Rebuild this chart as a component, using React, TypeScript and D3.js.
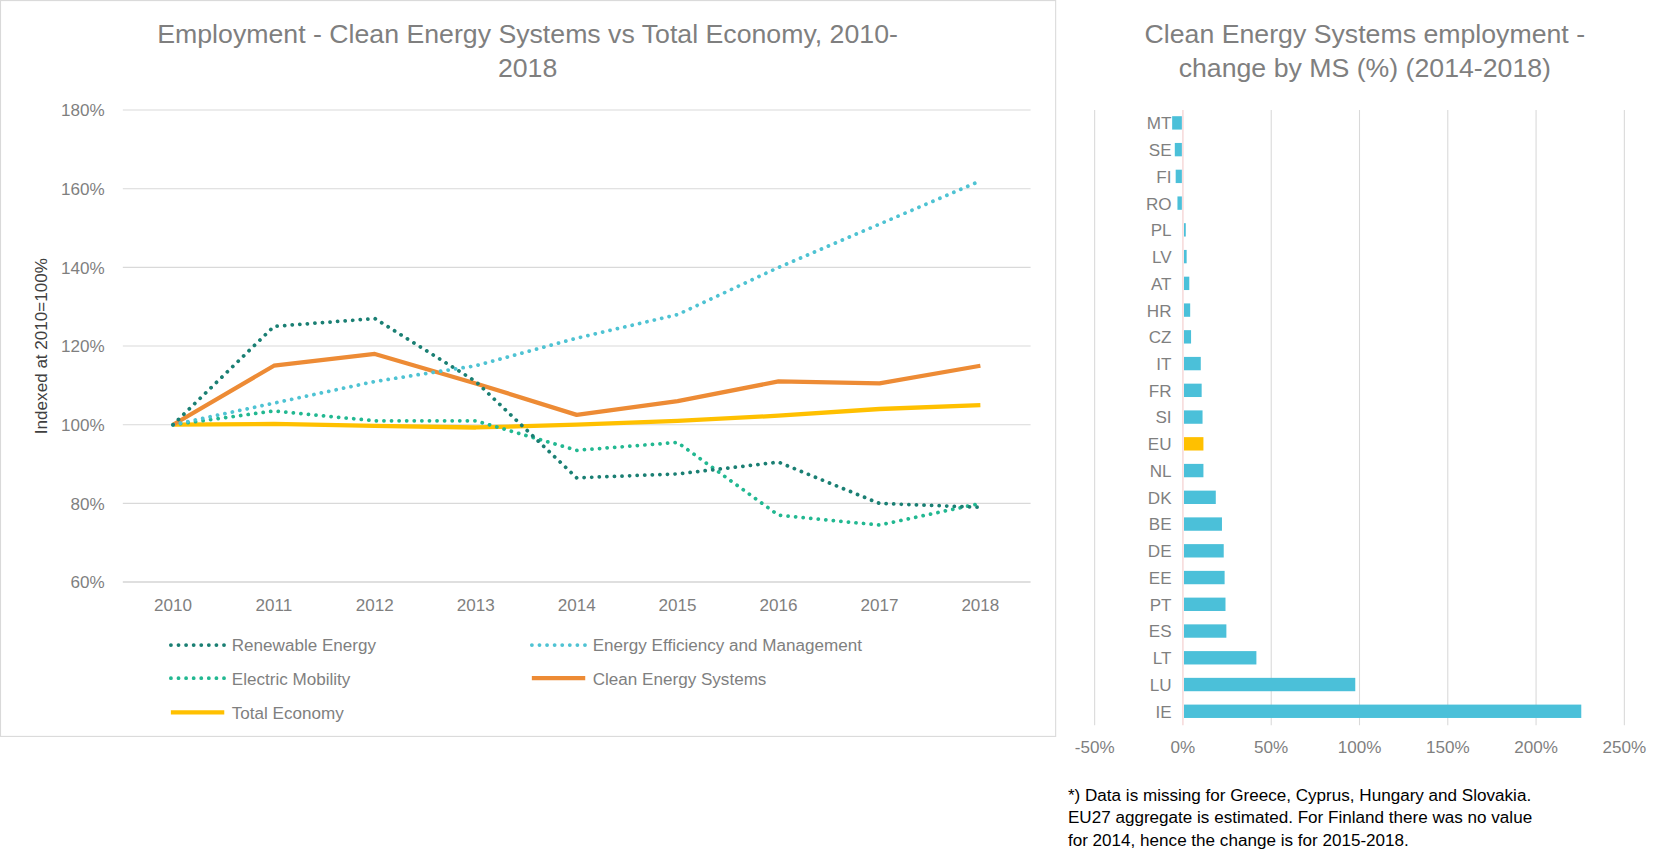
import { useEffect, useRef } from 'react';
import * as d3 from 'd3';

const years = ['2010', '2011', '2012', '2013', '2014', '2015', '2016', '2017', '2018'];
const renewable = [100, 125, 127, 111, 86.5, 87.5, 90.5, 80, 79];
const efficiency = [100, 105.5, 111, 115, 122, 128, 140, 151, 162];
const mobility = [100, 103.5, 101, 101, 93.5, 95.5, 77, 74.5, 80];
const cleanEnergy = [100, 115, 118, 110.5, 102.5, 106, 111, 110.5, 115];
const totalEconomy = [100, 100.2, 99.7, 99.3, 100, 101, 102.3, 104, 105];

const countries = ['MT', 'SE', 'FI', 'RO', 'PL', 'LV', 'AT', 'HR', 'CZ', 'IT', 'FR', 'SI', 'EU', 'NL', 'DK', 'BE', 'DE', 'EE', 'PT', 'ES', 'LT', 'LU', 'IE'];
const change = [-5.5, -4, -3.5, -2.5, 1, 1.5, 3, 3.5, 4, 9.5, 10, 10.5, 11, 11, 18, 21.5, 22.5, 23, 23.5, 24, 41, 97, 225];

const FONT = '"Liberation Sans", Arial, sans-serif';
const GREY = '#7f7f7f';

export default function App() {
  const ref = useRef<SVGSVGElement>(null);

  useEffect(() => {
    const svg = d3.select(ref.current);
    svg.selectAll('*').remove();
    svg.append('rect').attr('width', 1560).attr('height', 808).attr('fill', '#fff');
    svg.append('rect').attr('x', 0.5).attr('y', 0.5).attr('width', 988).attr('height', 689)
      .attr('fill', 'none').attr('stroke', '#d9d9d9');

    // ---- left line chart
    svg.append('text').attr('x', 494).attr('y', 40).attr('text-anchor', 'middle')
      .attr('font-size', 25).attr('fill', GREY).text('Employment - Clean Energy Systems vs Total Economy, 2010-');
    svg.append('text').attr('x', 494).attr('y', 72).attr('text-anchor', 'middle')
      .attr('font-size', 25).attr('fill', GREY).text('2018');

    const x = d3.scalePoint().domain(years).range([162, 918]);
    const y = d3.scaleLinear().domain([60, 180]).range([545, 103]);
    const g = svg.append('g');
    y.ticks(6).forEach((t) => {
      g.append('line').attr('x1', 115).attr('x2', 965).attr('y1', y(t)).attr('y2', y(t))
        .attr('stroke', t === 60 ? '#bfbfbf' : '#d9d9d9');
      g.append('text').attr('x', 98).attr('y', y(t) + 6).attr('text-anchor', 'end')
        .attr('font-size', 16).attr('fill', GREY).text(`${t}%`);
    });
    years.forEach((yr) => {
      g.append('text').attr('x', x(yr)!).attr('y', 572).attr('text-anchor', 'middle')
        .attr('font-size', 16).attr('fill', GREY).text(yr);
    });
    g.append('text').attr('transform', `translate(44,${y(120)}) rotate(-90)`).attr('text-anchor', 'middle')
      .attr('font-size', 16).attr('fill', '#404040').text('Indexed at 2010=100%');

    const series = [
      { name: 'Renewable Energy', data: renewable, color: '#1a7f73', dash: true },
      { name: 'Energy Efficiency and Management', data: efficiency, color: '#4fc3d3', dash: true },
      { name: 'Electric Mobility', data: mobility, color: '#22b891', dash: true },
      { name: 'Clean Energy Systems', data: cleanEnergy, color: '#ed8b35', dash: false },
      { name: 'Total Economy', data: totalEconomy, color: '#ffc000', dash: false },
    ];
    const line = d3.line<number>().x((_, i) => x(years[i])!).y((d) => y(d));
    [4, 3, 2, 1, 0].forEach((k) => {
      const s = series[k];
      g.append('path').attr('d', line(s.data)).attr('fill', 'none').attr('stroke', s.color)
        .attr('stroke-width', s.dash ? 3.5 : 4).attr('stroke-dasharray', s.dash ? '0.1 7' : null)
        .attr('stroke-linecap', s.dash ? 'round' : 'butt').attr('stroke-linejoin', 'round');
    });
    const legendPos = [[160, 604], [498, 604], [160, 635], [498, 635], [160, 667]];
    series.forEach((s, i) => {
      const [lx, ly] = legendPos[i];
      g.append('line').attr('x1', lx).attr('x2', lx + 50).attr('y1', ly).attr('y2', ly)
        .attr('stroke', s.color).attr('stroke-width', s.dash ? 3.5 : 4)
        .attr('stroke-dasharray', s.dash ? '0.1 7' : null).attr('stroke-linecap', s.dash ? 'round' : 'butt');
      g.append('text').attr('x', lx + 57).attr('y', ly + 6).attr('font-size', 16).attr('fill', GREY).text(s.name);
    });

    // ---- right bar chart
    svg.append('text').attr('x', 1278).attr('y', 40).attr('text-anchor', 'middle')
      .attr('font-size', 25).attr('fill', GREY).text('Clean Energy Systems employment -');
    svg.append('text').attr('x', 1278).attr('y', 72).attr('text-anchor', 'middle')
      .attr('font-size', 25).attr('fill', GREY).text('change by MS (%) (2014-2018)');

    const bx = d3.scaleLinear().domain([-50, 250]).range([1025, 1521]);
    const by = d3.scaleBand().domain(countries).range([102.5, 678.5]).paddingInner(0.5).paddingOuter(0.25);
    const b = svg.append('g');
    bx.ticks(6).forEach((t) => {
      b.append('line').attr('x1', bx(t)).attr('x2', bx(t)).attr('y1', 103).attr('y2', 679)
        .attr('stroke', t === 0 ? '#f2c9c9' : '#d9d9d9');
      b.append('text').attr('x', bx(t)).attr('y', 705).attr('text-anchor', 'middle')
        .attr('font-size', 16).attr('fill', GREY).text(`${t}%`);
    });
    countries.forEach((c, i) => {
      const v = change[i];
      b.append('rect').attr('x', bx(Math.min(0, v)) + (v > 0 ? 1 : -1)).attr('y', by(c)!)
        .attr('width', Math.abs(bx(v) - bx(0))).attr('height', by.bandwidth())
        .attr('fill', c === 'EU' ? '#ffc000' : '#4bc0d9');
      b.append('text').attr('x', 1097).attr('y', by(c)! + by.bandwidth() / 2 + 6).attr('text-anchor', 'end')
        .attr('font-size', 16).attr('fill', GREY).text(c);
    });
    const notes = [
      '*) Data is missing for Greece, Cyprus, Hungary and Slovakia.',
      'EU27 aggregate is estimated. For Finland there was no value',
      'for 2014, hence the change is for 2015-2018.',
    ];
    notes.forEach((n, i) => {
      svg.append('text').attr('x', 1000).attr('y', 750 + i * 21).attr('font-size', 16).attr('fill', '#000').text(n);
    });
  }, []);

  return (
    <svg ref={ref} width={1666} height={863} viewBox="0 0 1560 808"
      style={{ display: 'block', position: 'absolute', left: 0, top: 0, fontFamily: FONT }} />
  );
}
